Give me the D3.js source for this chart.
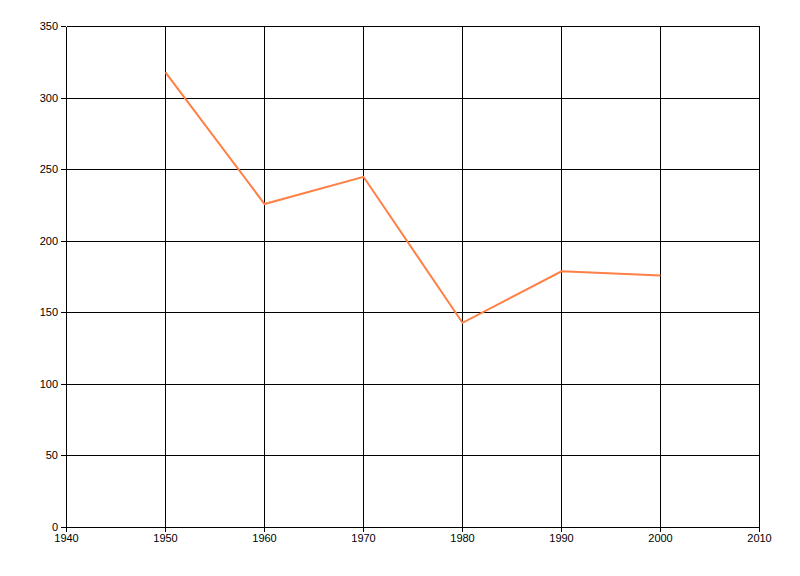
<!DOCTYPE html>
<html>
<head>
<meta charset="utf-8">
<script src="https://cdn.jsdelivr.net/npm/d3@7"></script>
<style>
  body { margin: 0; background: #fff; }
  .axis text { font-family: "Liberation Sans", Arial, sans-serif; font-size: 11px; fill: #000; }
  .grid, .axis line { shape-rendering: crispEdges; }
</style>
</head>
<body>
<svg class="chart"></svg>
<script>
const years = [1950, 1960, 1970, 1980, 1990, 2000];
const values = [318, 226, 245, 143, 179, 176];
const xTicks = [1940, 1950, 1960, 1970, 1980, 1990, 2000, 2010];
const yTicks = [0, 50, 100, 150, 200, 250, 300, 350];

const width = 800, height = 576,
      margins = {top: 26, right: 41, bottom: 49, left: 66};

const svg = d3.select('.chart')
  .attr('width', width)
  .attr('height', height);

const chart = svg.append('g')
  .attr('transform', 'translate(' + margins.left + ',' + margins.top + ')');

const w = width - margins.left - margins.right,
      h = height - margins.top - margins.bottom;

const xScale = d3.scaleLinear().domain([1940, 2010]).range([0, w]);
const yScale = d3.scaleLinear().domain([0, 350]).range([h, 0]);

// grid
chart.selectAll('.vgrid')
  .data(xTicks)
  .enter().append('line')
  .attr('class', 'grid')
  .attr('x1', d => Math.round(xScale(d)) + 0.5).attr('x2', d => Math.round(xScale(d)) + 0.5)
  .attr('y1', 0.5).attr('y2', h + 0.5)
  .attr('stroke', '#000').attr('stroke-width', 1);

chart.selectAll('.hgrid')
  .data(yTicks)
  .enter().append('line')
  .attr('class', 'grid')
  .attr('x1', 0.5).attr('x2', w + 0.5)
  .attr('y1', d => Math.round(yScale(d)) + 0.5).attr('y2', d => Math.round(yScale(d)) + 0.5)
  .attr('stroke', '#000').attr('stroke-width', 1);

// axes
chart.append('g')
  .attr('class', 'axis')
  .attr('transform', 'translate(0,' + h + ')')
  .call(d3.axisBottom(xScale).tickValues(xTicks).tickFormat(d3.format('d')).tickSize(5).tickPadding(2));

chart.append('g')
  .attr('class', 'axis')
  .call(d3.axisLeft(yScale).tickValues(yTicks).tickSize(5).tickPadding(3));

chart.selectAll('.axis .domain').remove();
chart.selectAll('.axis .tick line').attr('stroke', '#000');

// series
const line = d3.line()
  .x((d, i) => xScale(years[i]) + 0.5)
  .y(d => yScale(d) + 0.5);

chart.append('path')
  .datum(values)
  .attr('fill', 'none')
  .attr('stroke', '#FF7F45')
  .attr('stroke-width', 2)
  .attr('d', line);
</script>
</body>
</html>
